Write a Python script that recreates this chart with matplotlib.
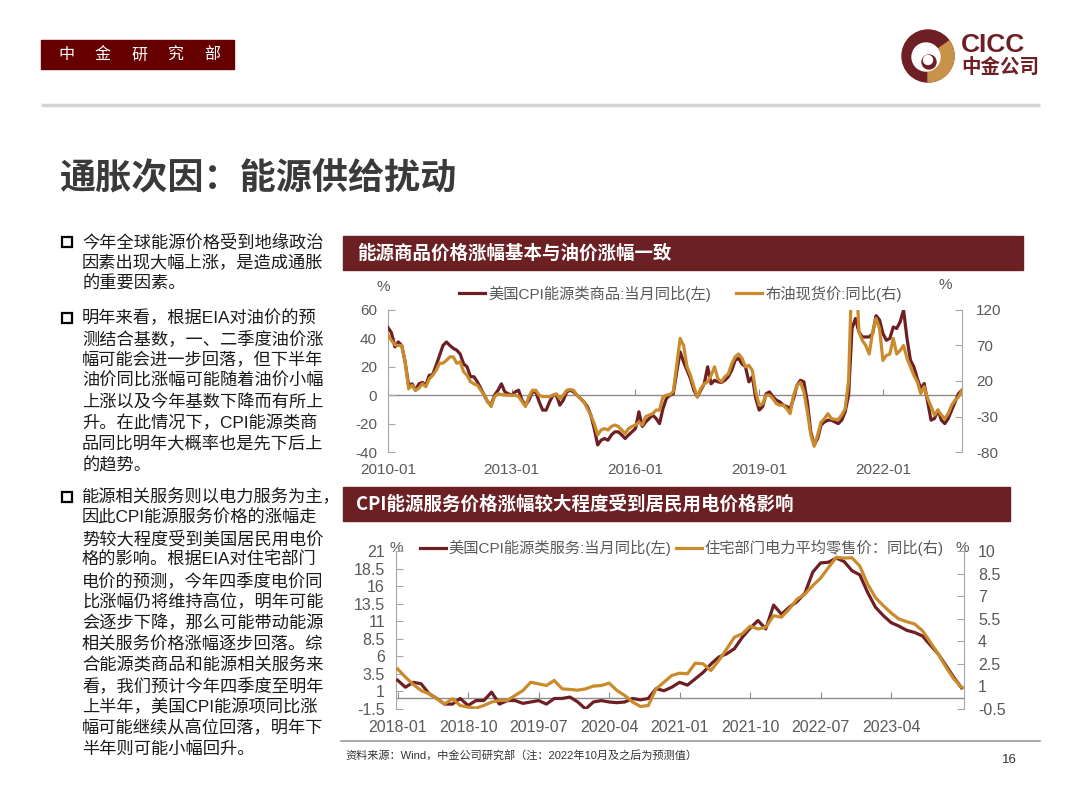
import matplotlib
matplotlib.use('Agg')
import matplotlib.pyplot as plt
from matplotlib.patches import Rectangle, Circle, Wedge
from matplotlib.lines import Line2D
import numpy as np

plt.rcParams['font.family'] = ['Liberation Sans', 'Noto Sans CJK SC']
plt.rcParams['axes.unicode_minus'] = False

# ---------------- data ----------------
# Top chart: monthly, 2010-01 .. 2023-12
cpi_energy_goods = [
    47.6, 44, 34, 37.5, 35, 23, 7, 8, 3.5, 8, 9, 7,
    14, 14.5, 21, 28, 35, 37.5, 35, 33, 31.7, 29, 22, 20,
    13, 13, 9.4, 4.7, 0, -4.7, -7, 0, 3.5, 8, 2.3, 1,
    0, 2.3, 3.5, -3.5, -7, -3.5, 2.3, 2.3, -4.7, -10.5, -10.5, -4.7,
    0, 0, -7, -3.5, 2.3, 3.5, 2.3, 0, -2.3, -4.7, -8, -14,
    -23.5, -35, -31.7, -30.5, -31.7, -28, -25.8, -25.8, -28, -30.5, -28, -25.8,
    -23.5, -11.7, -22, -18.8, -16.4, -14, -16.4, -20, -9.4, -2.3, 0, 1,
    16.4, 30.5, 23.5, 17.6, 11.7, 3.5, -1.2, 3.5, 8, 20, 8, 10.5,
    9.4, 9, 10.5, 13, 17.6, 24.6, 26, 22, 20, 9.4, 13, -2.3,
    -10.5, -8, 1, 2.3, -1.2, -3.5, -4.7, -7, -8, -9.4, -2.3, 7,
    10.5, 9.4, -4.7, -25.8, -35, -30.5, -21, -18.8, -17.6, -17.6, -18.8, -20,
    -17.6, -11.7, 0, 47, 54, 44.6, 41, 41, 41, 43.4, 56, 53,
    43.4, 38.7, 40, 48, 47, 51.6, 60, 40, 24.6, 20, 11.7, 4.7,
    8.2, -4.7, -17.6, -16.4, -10.5, -17.6, -20, -16.4, -10.5, -4.7, 1.2, 3.5,
]
brent_yoy = [
    85, 77, 71, 70, 70, 47, 9, 14, 7, 10, 16, 12,
    23, 28, 35, 45, 45, 49, 54, 54, 45, 47, 33, 28,
    19, 16, 14, 7, 0, -9, -16, -2, 2, 1, 0, 0,
    0, 0, -2, -9, -16, -2, 7, 7, 0, -2, -2, -2,
    0, 2, -5, 0, 7, 8, 7, 0, -5, -9, -19, -28,
    -40, -56, -49, -47, -49, -44, -42, -44, -49, -54, -47, -44,
    -42, -38, -42, -30, -28, -26, -21, -21, -2.4, 0, 1, 5,
    42, 80, 70, 40, 28, 12, -2.4, 9.4, 16, 19, 28, 40,
    23, 19, 26, 30, 44, 54, 58, 52, 40, 42, 35, 5,
    -14, -12, 0, 0, -5, -12, -14, -14, -19, -26, 0, 14,
    18, 5, -23, -56, -72, -56, -38, -33, -26, -33, -34, -34,
    -28, -19, 20, 180, 200, 89, 77, 70, 58, 89, 108, 94,
    49, 56, 58, 80, 58, 63, 70, 52, 40, 28, 19, 2.4,
    12, -4.6, -16, -28, -21, -28, -33, -26, -14, -7, -2.4, 7,
]
top_tick_labels = ['2010-01', '2013-01', '2016-01', '2019-01', '2022-01']
top_tick_months = [0, 36, 72, 108, 144]

# Bottom chart: monthly, 2018-01 .. 2024-01
cpi_energy_services = [
    2.6, 1.6, 2.3, 2.1, 0.7, 0.0, -0.8, -0.8, 0.0, -1.0, -0.3, -0.3,
    0.9, -0.8, -0.3, -0.3, -0.7, -0.5, -0.3, -0.8, 0.0, 0.0, 0.2, -0.5,
    -1.5, -0.5, -0.3, -0.5, -0.6, -0.5, 0.0, -0.2, 0.0, 1.4, 1.1, 1.6,
    2.3, 1.9, 2.8, 3.7, 4.9, 5.9, 6.35, 7.1, 8.7, 10.0, 11.1, 9.9,
    13.3, 12.0, 13.0, 13.8, 15.0, 18.0, 19.3, 19.4, 20.0, 19.5, 18.2, 17.6,
    15.1, 13.0, 11.8, 10.8, 10.3, 9.7, 9.4, 8.9, 7.6, 6.35, 4.7, 3.0,
    1.5,
]
residential_power = [
    2.17, 1.62, 1.13, 0.73, 0.51, 0.18, -0.16, 0.18, -0.27, -0.38, -0.44, -0.27,
    -0.04, 0.07, 0.07, 0.4, 0.73, 1.28, 1.17, 1.06, 1.4, 0.84, 0.8, 0.75,
    0.84, 1.02, 1.06, 1.22, 0.73, 0.4, -0.04, -0.33, -0.27, 0.84, 1.28, 1.73,
    1.88, 1.84, 2.55, 2.5, 2.06, 2.72, 3.49, 4.27, 4.5, 5.0, 4.82, 4.93,
    5.7, 5.6, 6.15, 6.8, 7.14, 7.7, 8.2, 8.9, 9.58, 9.53, 9.55, 9.0,
    7.8, 6.9, 6.37, 5.88, 5.48, 5.3, 5.15, 4.7, 3.94, 3.16, 2.28, 1.5,
    0.95,
]
bot_tick_labels = ['2018-01', '2018-10', '2019-07', '2020-04', '2021-01',
                   '2021-10', '2022-07', '2023-04']
bot_tick_months = [0, 9, 18, 27, 36, 45, 54, 63]

top_left_ticks = [60, 40, 20, 0, -20, -40]
top_right_ticks = [120, 70, 20, -30, -80]
bot_left_ticks = [21, 18.5, 16, 13.5, 11, 8.5, 6, 3.5, 1, -1.5]
bot_right_ticks = [10, 8.5, 7, 5.5, 4, 2.5, 1, -0.5]

MAROON = '#6E1F24'
GOLD = '#C98B2C'
BAR = '#6B2124'
GRAY_TXT = '#595959'
AXC = '#A6A6A6'

W, H = 1080, 810
fig = plt.figure(figsize=(10.8, 8.1), dpi=100)

# decoration layer in pixel coordinates (y downward)
deco = fig.add_axes([0, 0, 1, 1])
deco.set_xlim(0, W)
deco.set_ylim(H, 0)
deco.axis('off')
deco.set_zorder(0)

# header box
deco.add_patch(Rectangle((41, 40), 193, 29, color='#660000'))
for i, ch in enumerate('中金研究部'):
    deco.text(66 + i * 36.5, 55, ch, color='white', fontsize=11.5,
              ha='center', va='center', family=['Noto Sans CJK SC'])

# logo
deco.add_patch(Circle((928, 56), 26, color=MAROON))
deco.add_patch(Wedge((928, 56), 26, -35, 90, color='#C8924A'))
deco.add_patch(Circle((926, 57), 14, color='white'))
deco.add_patch(Circle((929, 62), 7, color=MAROON))
deco.add_patch(Circle((928, 60), 4.5, color='white'))
deco.text(961, 45, 'CICC', color=MAROON, fontsize=19, fontweight='bold',
          ha='left', va='center', family=['Liberation Sans'])
deco.text(961, 67, '中金公司', color=MAROON, fontsize=14, fontweight='bold',
          ha='left', va='center', family=['Noto Sans CJK SC'])

# separator
deco.plot([41, 1040], [105, 105], color='#D4D4D4', lw=2.5, solid_capstyle='butt')

# main title
deco.text(59, 178, '通胀次因：能源供给扰动', fontsize=26, color='#3A3A3A',
          ha='left', va='center', fontweight='bold', family=['Noto Sans CJK SC'])

# bullets
bullets = [
    (242, ["今年全球能源价格受到地缘政治",
           "因素出现大幅上涨，是造成通胀",
           "的重要因素。"]),
    (318, ["明年来看，根据EIA对油价的预",
           "测结合基数，一、二季度油价涨",
           "幅可能会进一步回落，但下半年",
           "油价同比涨幅可能随着油价小幅",
           "上涨以及今年基数下降而有所上",
           "升。在此情况下，CPI能源类商",
           "品同比明年大概率也是先下后上",
           "的趋势。"]),
    (497, ["能源相关服务则以电力服务为主，",
           "因此CPI能源服务价格的涨幅走",
           "势较大程度受到美国居民用电价",
           "格的影响。根据EIA对住宅部门",
           "电价的预测，今年四季度电价同",
           "比涨幅仍将维持高位，明年可能",
           "会逐步下降，那么可能带动能源",
           "相关服务价格涨幅逐步回落。综",
           "合能源类商品和能源相关服务来",
           "看，我们预计今年四季度至明年",
           "上半年，美国CPI能源项同比涨",
           "幅可能继续从高位回落，明年下",
           "半年则可能小幅回升。"]),
]
for y0, lines in bullets:
    deco.plot([67], [y0], marker='s', ms=7, mfc='white', mec='black', mew=1.6)
    for k, ln in enumerate(lines):
        deco.text(82, y0 + 21 * k, ln, fontsize=12.4, color='#1A1A1A',
                  ha='left', va='center')

# chart title bars
deco.add_patch(Rectangle((343, 236), 680, 34, color=BAR))
deco.text(357, 253, '能源商品价格涨幅基本与油价涨幅一致', color='white',
          fontsize=13.3, fontweight='bold', ha='left', va='center',
          family=['Noto Sans CJK SC'])
deco.add_patch(Rectangle((343, 487), 667, 34, color=BAR))
deco.text(356, 504, 'CPI能源服务价格涨幅较大程度受到居民用电价格影响', color='white',
          fontsize=13.3, fontweight='bold', ha='left', va='center',
          family=['Noto Sans CJK SC'])

# footer
deco.plot([341, 1040], [741, 741], color='#9A9A9A', lw=1.2)
deco.text(345, 755, '资料来源：Wind，中金公司研究部（注：2022年10月及之后为预测值）',
          fontsize=8, color='#333333', ha='left', va='center')
deco.text(1009, 760, '16', fontsize=9.5, color='#333333', ha='center', va='center')

# '%' unit labels
deco.text(383, 287, '%', fontsize=11, color=GRAY_TXT, ha='center', va='center')
deco.text(945, 285, '%', fontsize=11, color=GRAY_TXT, ha='center', va='center')
deco.text(396, 548, '%', fontsize=11, color=GRAY_TXT, ha='center', va='center')
deco.text(962, 548, '%', fontsize=11, color=GRAY_TXT, ha='center', va='center')


def fbox(x0, y0, x1, y1):
    return [x0 / W, 1 - y1 / H, (x1 - x0) / W, (y1 - y0) / H]


def style_axes(ax, ax2, ylim, ylim2, lt, rt, xt, xl, lab_fs, xpad, lpad, rpad):
    ax.set_facecolor('none')
    ax2.set_facecolor('none')
    for s in ['top', 'right', 'bottom']:
        ax.spines[s].set_visible(False)
    for s in ['top', 'left', 'bottom']:
        ax2.spines[s].set_visible(False)
    ax.spines['left'].set_color(AXC)
    ax2.spines['right'].set_color(AXC)
    ax.set_ylim(*ylim)
    ax2.set_ylim(*ylim2)
    ax.set_yticks(lt)
    ax.set_yticklabels([('%g' % v) for v in lt])
    ax2.set_yticks(rt)
    ax2.set_yticklabels([('%g' % v) for v in rt])
    ax.tick_params(axis='y', direction='in', length=5, color=AXC,
                   labelcolor=GRAY_TXT, labelsize=lab_fs, pad=lpad)
    ax2.tick_params(axis='y', direction='in', length=5, color=AXC,
                    labelcolor=GRAY_TXT, labelsize=lab_fs, pad=rpad)
    ax.set_xticks(xt)
    ax.set_xticklabels(xl)
    ax.tick_params(axis='x', length=0, labelcolor=GRAY_TXT,
                   labelsize=lab_fs, pad=xpad)
    ax.axhline(0, color='#8C8C8C', lw=1.0, zorder=1)
    loc = (0 - ylim[0]) / (ylim[1] - ylim[0])
    sec = ax.secondary_xaxis(loc)
    sec.set_xticks(xt)
    sec.tick_params(axis='x', direction='in', length=4, color='#8C8C8C',
                    labelbottom=False, labeltop=False)
    for s in sec.spines.values():
        s.set_visible(False)


# ---------------- top chart ----------------
ax = fig.add_axes(fbox(388, 310, 962, 452))
ax.set_zorder(1)
xt = np.arange(len(cpi_energy_goods))
ax.set_xlim(0, len(cpi_energy_goods) - 1)
l1, = ax.plot(xt, cpi_energy_goods, color=MAROON, lw=2.3, zorder=3)
ax2 = ax.twinx()
l2, = ax2.plot(xt, brent_yoy, color=GOLD, lw=2.3, zorder=3)
style_axes(ax, ax2, (-40, 60), (-80, 120), top_left_ticks, top_right_ticks,
           top_tick_months, top_tick_labels, 11, 8, 8, 10)
ax2.legend([l1, l2], ['美国CPI能源类商品:当月同比(左)', '布油现货价:同比(右)'],
           loc='center', bbox_to_anchor=(0.51, 1.115), ncol=2, frameon=False,
           fontsize=11, handlelength=1.7, handletextpad=0.25, columnspacing=1.6,
           labelcolor=GRAY_TXT, borderpad=0, borderaxespad=0)

# ---------------- bottom chart ----------------
bx = fig.add_axes(fbox(396, 551, 964, 709))
bx.set_zorder(1)
xb = np.arange(len(cpi_energy_services))
bx.set_xlim(-0.2, len(cpi_energy_services) - 0.7)
b1, = bx.plot(xb, cpi_energy_services, color=MAROON, lw=2.3, zorder=3)
bx2 = bx.twinx()
b2, = bx2.plot(xb, residential_power, color=GOLD, lw=2.3, zorder=3)
style_axes(bx, bx2, (-1.5, 21), (-0.5, 10), bot_left_ticks, bot_right_ticks,
           bot_tick_months, bot_tick_labels, 11.5, 8, 8, 10)
bx2.legend([b1, b2], ['美国CPI能源类服务:当月同比(左)', '住宅部门电力平均零售价：同比(右)'],
           loc='center', bbox_to_anchor=(0.503, 1.02), ncol=2, frameon=False,
           fontsize=11, handlelength=1.7, handletextpad=0.15, columnspacing=0.3,
           labelcolor=GRAY_TXT, borderpad=0, borderaxespad=0)

fig.savefig('out.png', dpi=100)
